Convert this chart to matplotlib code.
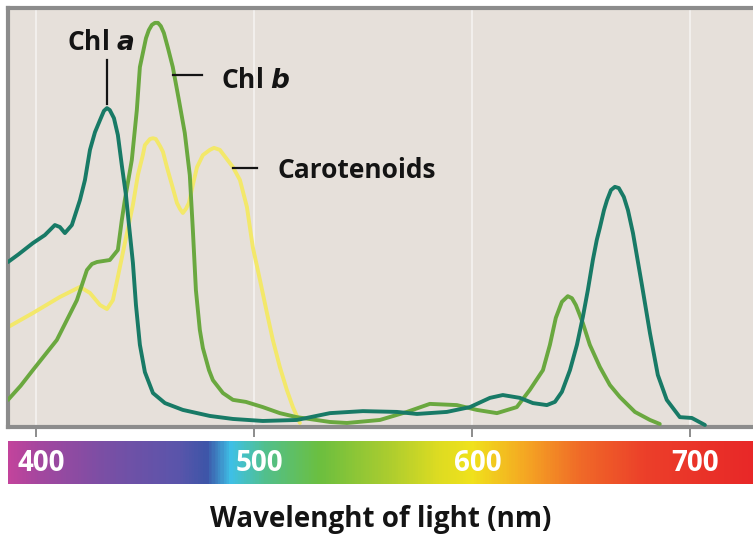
import matplotlib.pyplot as plt
import numpy as np
from matplotlib.colors import LinearSegmentedColormap

# absorbance spectra (wavelength nm, relative absorbance)
chla_nm = [387.2, 392.0, 398.6, 404.1, 408.7, 411.0, 413.3, 416.5, 420.2, 422.5,
           424.8, 427.1, 429.4, 431.2, 432.6, 433.9, 435.8, 437.6, 439.4, 441.3,
           442.7, 444.5, 445.9, 447.7, 450.0, 453.7, 459.2, 467.4, 479.8, 490.4,
           504.1, 519.7, 534.9, 550.0, 565.6, 574.8, 588.5, 599.1, 608.3, 614.2,
           622.0, 628.0, 634.4, 638.1, 641.3, 645.0, 648.2, 650.9, 653.2, 655.5,
           657.3, 658.7, 660.6, 662.0, 663.8, 665.6, 667.4, 669.7, 671.6, 673.9,
           678.0, 681.7, 685.3, 689.4, 695.4, 700.9, 706.9]
chla_abs = [39.8, 41.7, 44.5, 46.5, 49.0, 48.5, 47.0, 49.0, 55.2, 60.2,
            67.7, 72.1, 75.1, 77.4, 78.1, 77.6, 75.6, 71.4, 63.9, 56.5,
            49.0, 39.6, 29.1, 19.2, 12.4, 7.2, 4.7, 3.0, 1.5, 0.75,
            0.25, 0.5, 2.2, 2.7, 2.5, 2.0, 2.5, 3.7, 6.0, 6.7,
            6.0, 4.7, 4.2, 5.0, 7.5, 12.9, 19.2, 26.1, 32.8, 40.3,
            45.3, 48.3, 52.7, 55.2, 57.7, 58.5, 58.2, 56.0, 52.7, 47.0,
            34.1, 22.1, 11.7, 5.5, 1.2, 1.0, -0.75]

chlb_nm = [387.2, 393.0, 398.6, 409.6, 418.8, 423.4, 425.7, 428.0, 433.9, 437.6,
           439.4, 440.8, 444.0, 446.3, 447.7, 450.5, 451.8, 453.2, 454.6, 456.0,
           457.3, 458.7, 460.6, 462.8, 465.6, 468.3, 470.6, 472.0, 473.4, 475.2,
           476.6, 479.4, 481.2, 485.8, 490.4, 496.3, 504.1, 511.9, 519.7, 534.9,
           542.7, 557.8, 570.2, 580.7, 593.1, 602.3, 611.5, 620.6, 626.6, 632.6,
           635.8, 638.5, 641.3, 644.0, 645.9, 647.7, 649.5, 650.9, 654.1, 658.7,
           663.3, 667.9, 674.8, 681.7, 686.2]
chlb_abs = [5.5, 9.0, 12.9, 20.4, 30.3, 37.8, 39.3, 39.8, 40.3, 42.8,
            50.2, 55.2, 65.2, 77.6, 88.3, 95.5, 97.5, 98.8, 99.3, 99.3,
            98.5, 96.8, 93.0, 88.3, 80.1, 71.9, 61.4, 47.8, 32.8, 22.9,
            18.4, 12.9, 10.4, 7.2, 5.5, 5.0, 3.7, 2.2, 1.2, 0.0,
            -0.25, 0.5, 2.5, 4.5, 4.2, 3.0, 2.2, 3.7, 8.0, 12.9,
            19.2, 25.9, 29.9, 31.3, 30.8, 29.1, 26.6, 24.6, 19.2, 13.7,
            9.2, 6.2, 2.5, 0.5, -0.5]

car_nm = [387.2, 398.6, 411.0, 420.2, 424.8, 429.4, 432.6, 435.3, 437.6, 440.8,
          444.5, 446.8, 449.1, 450.0, 452.3, 453.7, 455.0, 456.9, 458.3, 460.1,
          462.4, 464.7, 466.1, 467.4, 468.8, 470.2, 472.0, 473.9, 476.6, 479.8,
          481.7, 484.4, 486.2, 490.4, 493.6, 496.8, 499.5, 502.8, 506.0, 508.7,
          511.9, 515.1, 517.9, 521.1]
car_abs = [23.6, 27.1, 31.1, 33.6, 32.1, 29.1, 28.1, 30.3, 36.1, 44.5,
           54.0, 61.5, 66.5, 68.9, 70.4, 70.6, 70.4, 68.7, 67.2, 63.4,
           59.0, 54.5, 53.0, 52.0, 53.0, 54.5, 59.0, 63.4, 66.4, 67.7,
           68.2, 67.7, 66.4, 63.4, 60.2, 53.5, 43.5, 35.3, 27.1, 20.4,
           13.7, 8.0, 3.7, -0.25]

ticks = [400, 500, 600, 700]
tick_labels = ['400', '500', '600', '700']

# spectrum strip colours, by wavelength
spec_nm = [387, 400, 430, 465, 478, 489, 505, 530, 560, 585, 600, 625, 650, 680, 729]
spec_col = ['#c2449c', '#a5479f', '#7b4fa5', '#5a55ab', '#3d55a8', '#3fc0e6', '#52c08c',
            '#6cbf3f', '#a8cc30', '#dedc22', '#f0e21c', '#f5a623', '#f06a28', '#ec3f2a', '#e82828']

XMIN, XMAX = 387.2, 729.0
BG = '#e6e0da'
EDGE = '#8c8c8c'
INK = '#141414'

plt.rcParams['font.family'] = ['Open Sans', 'DejaVu Sans']

fig = plt.figure(figsize=(7.53, 5.36), dpi=100)
fig.patch.set_facecolor('white')

ax = fig.add_axes([8 / 753, 1 - 427 / 536, 1 - 8 / 753 + 0.01, 419 / 536])
ax.set_facecolor(BG)
for x in ticks:
    ax.axvline(x, color='#f4f1ee', lw=1.3, zorder=0)

ax.plot(car_nm, car_abs, color='#f3e86a', lw=2.8, solid_capstyle='round',
        solid_joinstyle='round', zorder=2)
ax.plot(chlb_nm, chlb_abs, color='#6aa83f', lw=2.8, solid_capstyle='round',
        solid_joinstyle='round', zorder=3)
ax.plot(chla_nm, chla_abs, color='#187a66', lw=2.8, solid_capstyle='round',
        solid_joinstyle='round', zorder=4)

ax.set_xlim(XMIN, XMAX + (XMAX - XMIN) * 0.01)
ax.set_ylim(-1.25, 103)
ax.set_yticks([])
ax.set_xticks(ticks)
ax.set_xticklabels([])
ax.tick_params(axis='x', direction='out', length=7, width=1.4, color=EDGE)
for s in ['left', 'top', 'bottom']:
    ax.spines[s].set_color(EDGE)
    ax.spines[s].set_linewidth(3)
ax.spines['right'].set_visible(False)

# labels with leader lines
ax.plot([432.6, 432.6], [90.0, 79.0], color=INK, lw=1.6, zorder=5)
ax.text(429.8, 94.5, 'Chl $\\boldsymbol{a}$', ha='center', va='center', fontsize=19,
        fontweight='bold', color=INK)
ax.plot([462.8, 476.1], [86.3, 86.3], color=INK, lw=1.6, zorder=5)
ax.text(485.0, 85.0, 'Chl $\\boldsymbol{b}$', ha='left', va='center', fontsize=19,
        fontweight='bold', color=INK)
ax.plot([490.4, 501.4], [63.2, 63.2], color=INK, lw=1.6, zorder=5)
ax.text(511.0, 62.5, 'Carotenoids', ha='left', va='center', fontsize=19,
        fontweight='bold', color=INK)

# spectrum strip under the axis
cax = fig.add_axes([8 / 753, 1 - 484 / 536, 1 - 8 / 753 + 0.01, 43 / 536])
pos = [(v - spec_nm[0]) / (spec_nm[-1] - spec_nm[0]) for v in spec_nm]
cmap = LinearSegmentedColormap.from_list('spec', list(zip(pos, spec_col)))
grad = np.linspace(0, 1, 600).reshape(1, -1)
cax.imshow(grad, cmap=cmap, aspect='auto', extent=[spec_nm[0], spec_nm[-1], 0, 1])
cax.set_xlim(ax.get_xlim())
cax.set_ylim(0, 1)
cax.axis('off')
for x, lab in zip(ticks, tick_labels):
    cax.text(x + 2.5, 0.47, lab, ha='center', va='center', color='white',
             fontsize=20, fontweight='bold')

fig.text(0.505, 0.030, 'Wavelenght of light (nm)', ha='center', va='center',
         fontsize=20, fontweight='bold', color=INK)

fig.savefig('out.png', dpi=100, facecolor='white')
